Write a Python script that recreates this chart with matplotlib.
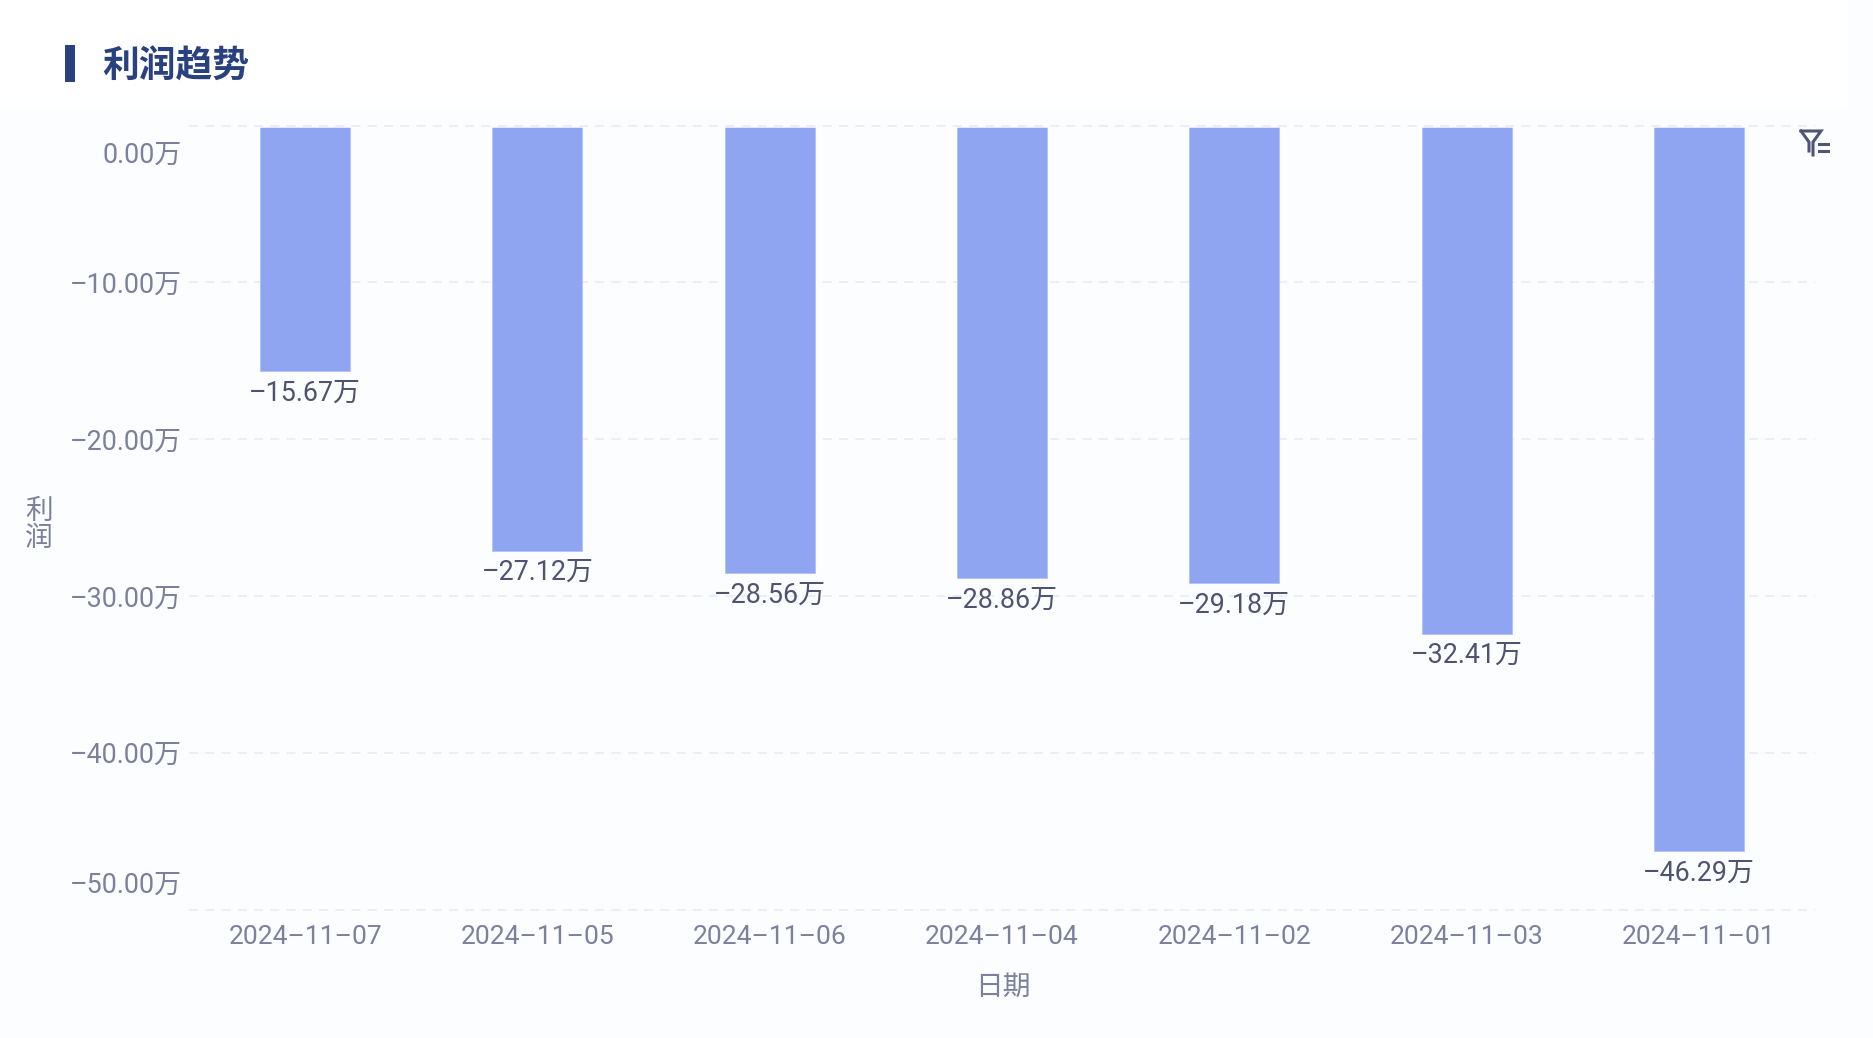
import matplotlib
matplotlib.use("Agg")
import matplotlib.pyplot as plt
from matplotlib.lines import Line2D
from matplotlib.patches import Rectangle
from matplotlib.transforms import ScaledTranslation

plt.rcParams['font.family'] = ['Roboto', 'Noto Sans CJK SC', 'DejaVu Sans']

dates = ['2024–11–07', '2024–11–05', '2024–11–06', '2024–11–04', '2024–11–02', '2024–11–03', '2024–11–01']
profit = [-15.67, -27.12, -28.56, -28.86, -29.18, -32.41, -46.29]
yticks = [0, -10, -20, -30, -40, -50]
ytick_labels = ['0.00万', '–10.00万', '–20.00万', '–30.00万', '–40.00万', '–50.00万']
title = '利润趋势'
xlabel = '日期'
ylabel = '利\n润'

W, H = 1874, 1038
BG = '#FCFDFF'
TICK = '#7C809C'
DARK = '#4F5270'
NAVY = '#2A4180'
BAR = '#8FA5F2'
GRID = '#EBEDF4'

fx = lambda x: x / W
fy = lambda y: 1 - y / H

fig = plt.figure(figsize=(W / 100, H / 100), dpi=100, facecolor=BG)
fig.add_artist(Rectangle((0, fy(107)), fx(1848), 107 / H, transform=fig.transFigure,
                         facecolor='white', edgecolor='none', zorder=-5))
fig.add_artist(Rectangle((fx(65), fy(82)), 10 / W, 37 / H, transform=fig.transFigure,
                         facecolor=NAVY, edgecolor='none'))
fig.text(fx(102), fy(68), title, fontsize=26.5, fontweight='bold', color=NAVY, va='center', ha='left')

ax = fig.add_axes([fx(189), fy(909.5), (1815 - 189) / W, (909.5 - 125.5) / H])
ax.set_facecolor('none')
for s in ax.spines.values():
    s.set_visible(False)

x = range(len(dates))
ax.bar(x, profit, width=90 / 232.3, color=BAR, edgecolor='#B4C4F8', linewidth=0.7, zorder=2)
ax.axhline(0, color=BG, lw=1.8, zorder=3)
ax.set_xlim(-0.5, len(dates) - 0.5)
ax.set_ylim(-50, 0)
ax.set_yticks(yticks)
ax.set_yticklabels(ytick_labels)
ax.set_xticks(list(x))
ax.set_xticklabels(dates)
ax.tick_params(axis='both', length=0, labelcolor=TICK, labelsize=19)
ax.tick_params(axis='y', labelsize=19.4, pad=5)
ax.tick_params(axis='x', pad=11)
ax.grid(False)
for v in yticks:
    ax.axhline(v, color=GRID, lw=1.3, dashes=(5, 4), zorder=1 if v else 4, clip_on=False)

labels = ax.get_yticklabels()
labels[0].set_transform(labels[0].get_transform() + ScaledTranslation(0, -27 / 100, fig.dpi_scale_trans))
labels[-1].set_transform(labels[-1].get_transform() + ScaledTranslation(0, 27 / 100, fig.dpi_scale_trans))

for i, v in enumerate(profit):
    ax.annotate(f'–{abs(v):.2f}万', (i, v), xytext=(0, -22 * 0.72), textcoords='offset points',
                ha='center', va='center', fontsize=19.4, color=DARK, zorder=5)

fig.text(fx(39), fy(525), ylabel, fontsize=20, color=TICK, ha='center', va='center', linespacing=1.0)
fig.text(fx(1003), fy(987), xlabel, fontsize=20, color=TICK, ha='center', va='center')

# filter icon
ic = '#4F5575'
for xs, ys in [([1801, 1821, 1813, 1813], [131, 131, 142, 155]),
               ([1801, 1809, 1809], [131, 142, 151]),
               ([1819, 1828], [144, 144]), ([1819, 1828], [151, 151])]:
    fig.add_artist(Line2D([fx(a) for a in xs], [fy(b) for b in ys], transform=fig.transFigure,
                          color=ic, lw=2.2, solid_joinstyle='miter'))

fig.savefig('out.png', dpi=100, facecolor=BG)
